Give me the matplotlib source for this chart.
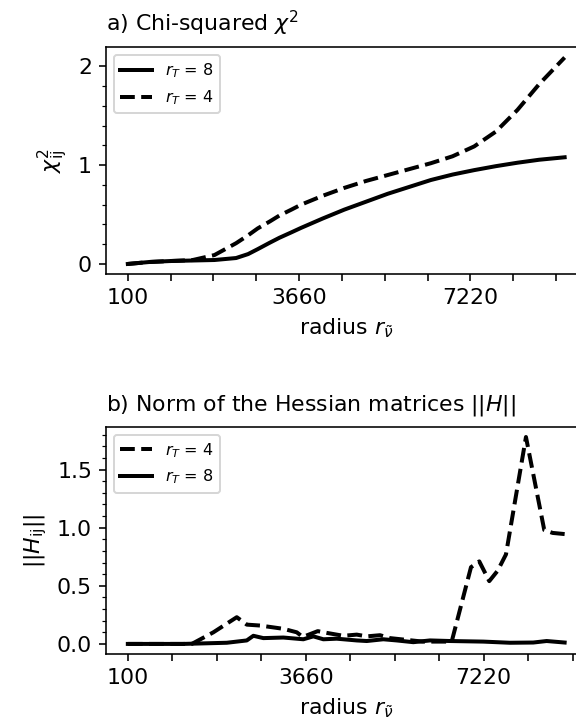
import matplotlib
matplotlib.use('Agg')
import matplotlib.pyplot as plt
from matplotlib.ticker import AutoMinorLocator

# ── data ──────────────────────────────────────────────────────────────────
# a) chi-squared
r_chi = [100, 550, 1000, 1450, 1900, 2350, 2600, 2800, 3050, 3250, 3500,
         3700, 4150, 4600, 5050, 5500, 5950, 6400, 6850, 7300, 7750, 8200,
         8650, 9180]
chi_rt8 = [0.0, 0.02, 0.03, 0.035, 0.04, 0.06, 0.10, 0.15, 0.215, 0.265, 0.32,
           0.365, 0.46, 0.55, 0.63, 0.71, 0.78, 0.85, 0.905, 0.95, 0.99, 1.025,
           1.055, 1.08]
chi_rt4 = [0.0, 0.02, 0.03, 0.04, 0.09, 0.21, 0.29, 0.36, 0.43, 0.49, 0.55,
           0.60, 0.69, 0.77, 0.84, 0.90, 0.96, 1.02, 1.09, 1.19, 1.34, 1.56,
           1.82, 2.09]

# b) Hessian norm
r_h4 = [100, 1380, 1812, 2280, 2480, 2750, 3212, 3480, 3600, 3900, 4080,
        4412, 4680, 4880, 5146, 5346, 6000, 6580, 6966, 7132, 7332, 7500,
        7666, 8066, 8432, 8600, 8840]
hess_rt4 = [0.0, 0.0, 0.10, 0.23, 0.166, 0.158, 0.13, 0.10, 0.06, 0.11, 0.095,
            0.07, 0.08, 0.065, 0.075, 0.05, 0.02, 0.02, 0.66, 0.71, 0.54, 0.63,
            0.77, 1.78, 0.98, 0.955, 0.945]
r_h8 = [100, 1200, 2080, 2480, 2612, 2812, 3212, 3612, 3812, 4012, 4280,
        4680, 4880, 5212, 5480, 5812, 6146, 6546, 7212, 7746, 8212, 8480, 8840]
hess_rt8 = [0.0, 0.0, 0.01, 0.03, 0.07, 0.05, 0.055, 0.04, 0.065, 0.04, 0.045,
            0.03, 0.025, 0.04, 0.03, 0.015, 0.03, 0.025, 0.02, 0.01, 0.012,
            0.025, 0.012]

xtick_vals = [100 + 890 * k for k in range(11)]
xtick_labels = ['100', '', '', '', '3660', '', '', '', '7220', '', '']

plt.rcParams['font.size'] = 11

fig = plt.figure(figsize=(4.0, 726 / 144), dpi=144)
ax1 = fig.add_axes([0.184, 0.6222, 0.8342, 0.3128])
ax2 = fig.add_axes([0.184, 0.0988, 0.8342, 0.3135])

lw = 2.0

# ── a) chi-squared ─────────────────────────────────────────────────────────
ax1.plot(r_chi, chi_rt8, '-', color='black', lw=lw, label=r'$r_T$ = 8')
ax1.plot(r_chi, chi_rt4, '--', color='black', lw=lw, label=r'$r_T$ = 4')
ax1.set_title(r'a) Chi-squared $\chi^2$', loc='left', fontsize=11, pad=8)
ax1.set_ylabel(r'$\chi^2_{\mathrm{ij}}$')
ax1.set_xlabel(r'radius $r_{\tilde{\nu}}$')
ax1.set_yticks([0, 1, 2])
ax1.yaxis.set_minor_locator(AutoMinorLocator(5))
ax1.legend(loc='upper left', fontsize=8)

# ── b) Hessian norm ────────────────────────────────────────────────────────
ax2.plot(r_h4, hess_rt4, '--', color='black', lw=lw, label=r'$r_T$ = 4')
ax2.plot(r_h8, hess_rt8, '-', color='black', lw=lw, label=r'$r_T$ = 8')
ax2.set_title(r'b) Norm of the Hessian matrices $||H||$', loc='left',
              fontsize=11, pad=8)
ax2.set_ylabel(r'$||H_{\mathrm{ij}}||$')
ax2.set_xlabel(r'radius $r_{\tilde{\nu}}$')
ax2.set_yticks([0.0, 0.5, 1.0, 1.5])
ax2.yaxis.set_minor_locator(AutoMinorLocator(5))
ax2.legend(loc='upper left', fontsize=8)

for ax in (ax1, ax2):
    ax.set_xticks(xtick_vals)
    ax.set_xticklabels(xtick_labels)

fig.savefig('out.png', dpi=144)
